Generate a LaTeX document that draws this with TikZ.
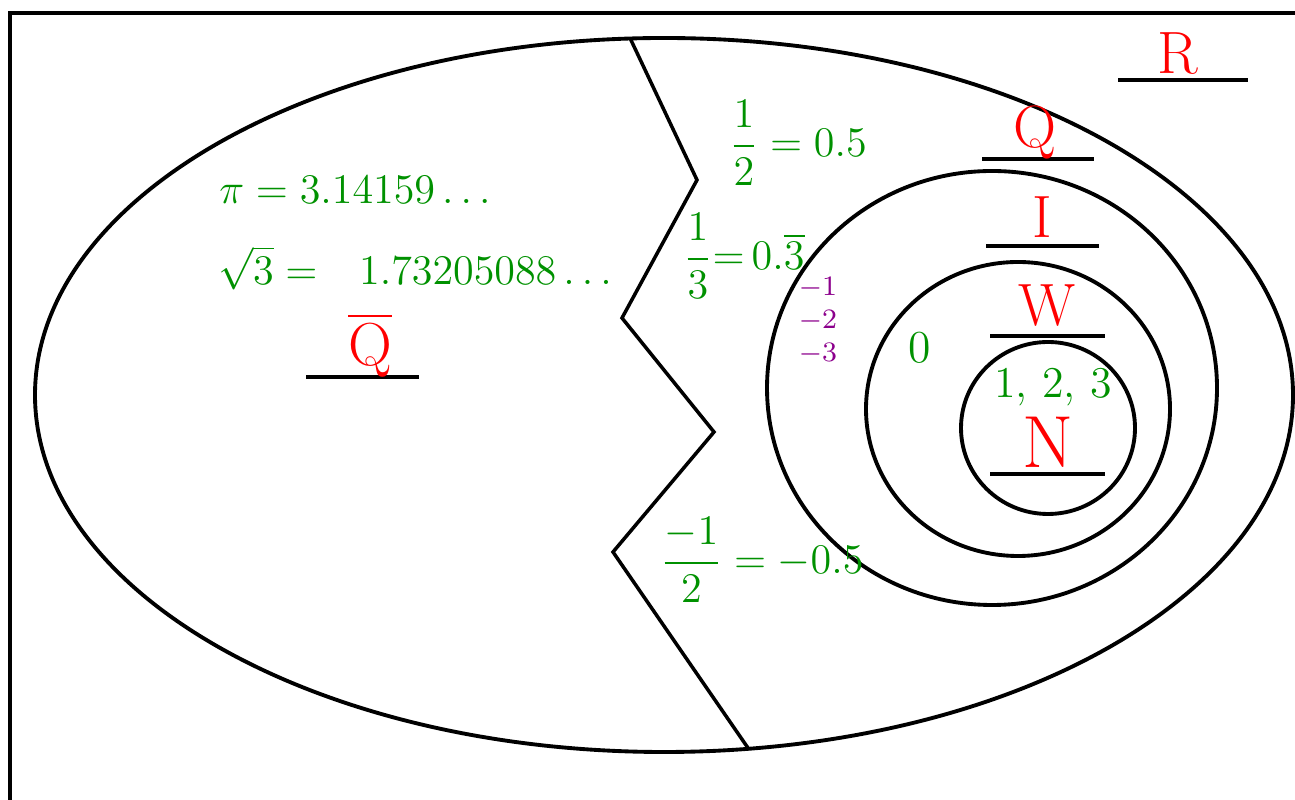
\documentclass[tikz,border=0pt]{standalone}
\usepackage{amsmath}
\definecolor{handgreen}{RGB}{0,145,0}
\definecolor{handred}{RGB}{255,0,0}
\definecolor{handpurple}{RGB}{140,0,140}

\begin{document}
\begin{tikzpicture}[x=0.1mm,y=-0.1mm,line width=1.1pt,
  setname/.style={text=handred,font=\fontsize{17}{17}\selectfont,inner sep=0pt,anchor=base},
  num/.style={text=handgreen,font=\fontsize{13}{15}\selectfont,inner sep=0pt},
  neg/.style={text=handpurple,font=\fontsize{8.5}{9}\selectfont,inner sep=0pt}]
\useasboundingbox (0,0) rectangle (1295,800);

% frame
\draw[line width=1.4pt] (10,800) -- (10,13) -- (1300,13);

%================= the reals, cut in two =================
\draw (664,395) ellipse [x radius=629, y radius=357];
\draw[line width=1pt,line join=miter] (630,38) -- (697,180) -- (622,318) -- (714,432)
  -- (613,552) -- (748,748);

% nested sets on the rational side
\draw (992,388) ellipse [x radius=225, y radius=217];
\draw (1018,409) ellipse [x radius=152, y radius=147];
\draw (1048,428) ellipse [x radius=87, y radius=86];

%================= set names on their lines =================
\draw (1118,80) -- (1248,80);
\node[setname] (lblR) at (1178,74) {R};
\draw (982,159) -- (1094,159);
\node[setname] (lblQ) at (1035,148) {Q};
\draw (986,246) -- (1099,246);
\node[setname] (lblI) at (1042,238) {I};
\draw (990,336) -- (1105,336);
\node[setname] (lblW) at (1047,326) {W};
\draw (990,474) -- (1105,474);
\node[setname,font=\fontsize{21}{21}\selectfont] (lblN) at (1048,468) {N};
\draw (306,377) -- (419,377);
\node[setname] (lblQbar) at (370,366) {$\overline{\mathrm{Q}}$};

%================= the numbers =================
\node[num] (piVal) at (355,190) {$\pi = 3.14159\ldots$};
\node[num] (rootThree) at (415,268) {$\sqrt{3} =\ \ 1.73205088\ldots$};
\node[num] (half) at (798,143) {$\dfrac{1}{2} = 0.5$};
\node[num,font=\fontsize{12.5}{15}\selectfont] (third) at (744,256)
  {$\dfrac{1}{3}{=}\,0.\overline{3}$};
\node[num,font=\fontsize{12.5}{15}\selectfont] (negHalf) at (762,560)
  {$\dfrac{-1}{2} = -0.5$};
\node[num] (zero) at (920,348) {0};
\node[num,font=\fontsize{12.5}{15}\selectfont] (oneTwoThree) at (1053,387) {1, 2, 3};
\node[neg] (negOne) at (818,288) {$-1$};
\node[neg] (negTwo) at (818,321) {$-2$};
\node[neg] (negThree) at (818,354) {$-3$};
\end{tikzpicture}
\end{document}
